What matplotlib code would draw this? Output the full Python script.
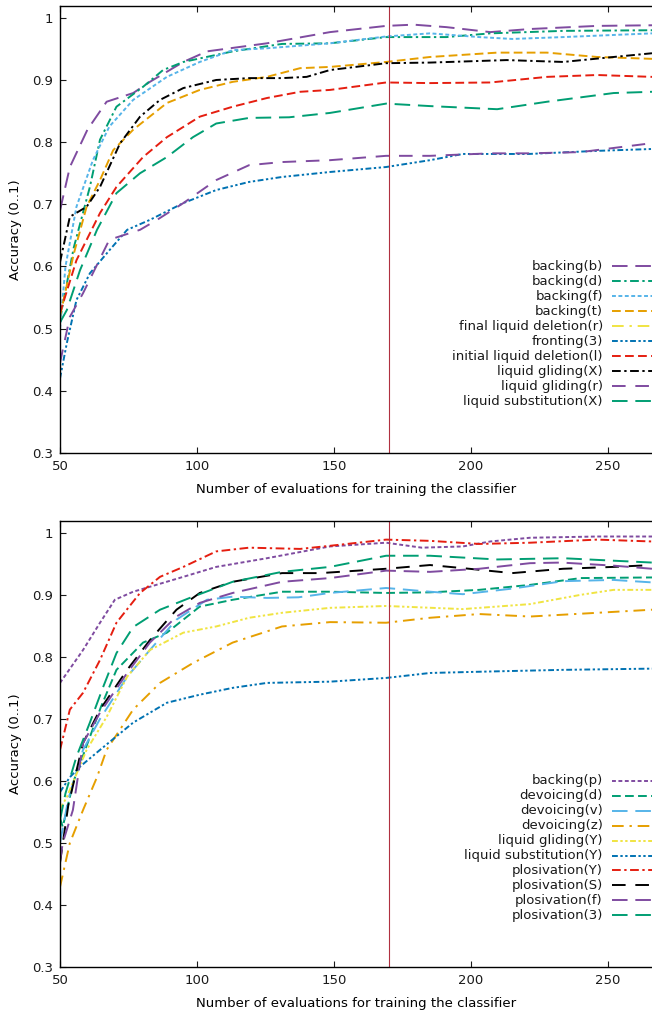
import matplotlib
matplotlib.use("Agg")
import matplotlib.pyplot as plt

plt.rcParams['font.family'] = ['DejaVu Sans']
plt.rcParams['font.size'] = 9.5

# ---- top panel data ----
top_names = ["backing(b)", "backing(d)", "backing(f)", "backing(t)",
             "final liquid deletion(r)", "fronting(3)", "initial liquid deletion(l)",
             "liquid gliding(X)", "liquid gliding(r)", "liquid substitution(X)"]

bb_x = [50, 53.6, 60, 67, 76.7, 82.8, 95, 103.6, 125.5, 148.5, 169, 179, 191, 207, 221.5, 246, 266]
bb_y = [0.690, 0.760, 0.820, 0.865, 0.879, 0.897, 0.929, 0.946, 0.959, 0.977, 0.987, 0.989, 0.985, 0.977, 0.982, 0.987, 0.988]

bd_x = [50, 55, 60.9, 64.6, 70.6, 80.3, 87.6, 95, 113, 131, 148.5, 169, 191, 207, 233.6, 266]
bd_y = [0.515, 0.630, 0.728, 0.804, 0.857, 0.889, 0.916, 0.929, 0.946, 0.958, 0.959, 0.969, 0.969, 0.975, 0.979, 0.980]

bf_x = [50, 52, 56, 62, 68, 76.7, 89, 101, 113, 125.5, 148.5, 169, 185, 203, 215, 233.6, 266]
bf_y = [0.500, 0.600, 0.696, 0.771, 0.825, 0.868, 0.905, 0.929, 0.948, 0.951, 0.959, 0.970, 0.975, 0.969, 0.966, 0.969, 0.975]

bt_x = [50, 55, 59.7, 64.6, 69.4, 76.7, 89, 101, 113, 125.5, 137.6, 148.5, 169, 185, 209.5, 227.7, 246, 266]
bt_y = [0.520, 0.620, 0.696, 0.739, 0.787, 0.820, 0.863, 0.884, 0.897, 0.905, 0.919, 0.921, 0.929, 0.937, 0.944, 0.944, 0.937, 0.934]

fl_x = []
fl_y = []

fr_x = [50, 52.5, 56, 60.9, 68, 74.5, 82.8, 95, 107, 119, 131, 148.5, 169, 185, 197, 221, 246, 266]
fr_y = [0.420, 0.477, 0.546, 0.589, 0.626, 0.659, 0.675, 0.702, 0.723, 0.736, 0.744, 0.752, 0.760, 0.771, 0.781, 0.781, 0.786, 0.789]

il_x = [50, 56, 64.6, 70.6, 80.3, 89, 101, 113, 125.5, 137.6, 148.5, 169, 185, 207, 227.7, 246, 266]
il_y = [0.525, 0.610, 0.686, 0.728, 0.776, 0.808, 0.841, 0.857, 0.871, 0.881, 0.884, 0.896, 0.895, 0.896, 0.905, 0.908, 0.905]

lgx_x = [50, 53.6, 59.7, 64.6, 71.9, 79.2, 86.5, 95, 107, 119, 131, 140, 148.5, 169, 185, 213, 233.6, 252, 266]
lgx_y = [0.607, 0.680, 0.696, 0.728, 0.798, 0.841, 0.868, 0.887, 0.900, 0.903, 0.903, 0.905, 0.916, 0.927, 0.928, 0.932, 0.929, 0.937, 0.943]

lgr_x = [50, 53.6, 58.4, 68, 79.2, 85.4, 95, 107, 119, 131, 148.5, 169, 185, 207, 221, 240, 263.5]
lgr_y = [0.445, 0.519, 0.557, 0.643, 0.659, 0.675, 0.702, 0.739, 0.763, 0.768, 0.771, 0.778, 0.778, 0.782, 0.782, 0.784, 0.797]

lsx_x = [50, 52.5, 57.3, 63.5, 70.6, 79.2, 89, 98.5, 107, 119, 133.6, 148.5, 169, 185, 209.5, 227.7, 252, 266]
lsx_y = [0.510, 0.530, 0.594, 0.659, 0.718, 0.750, 0.776, 0.808, 0.830, 0.839, 0.840, 0.847, 0.862, 0.858, 0.853, 0.865, 0.879, 0.881]

# ---- bottom panel data ----
bot_names = ["backing(p)", "devoicing(d)", "devoicing(v)", "devoicing(z)",
             "liquid gliding(Y)", "liquid substitution(Y)", "plosivation(Y)",
             "plosivation(S)", "plosivation(f)", "plosivation(3)"]

bp_x = [50, 58.4, 64.6, 70, 76.7, 82.8, 95, 107, 125.5, 148.5, 169, 182, 197, 207, 221.5, 246, 266]
bp_y = [0.758, 0.811, 0.855, 0.892, 0.905, 0.913, 0.929, 0.945, 0.959, 0.978, 0.984, 0.976, 0.978, 0.986, 0.992, 0.994, 0.994]

dd_x = [50, 51, 55, 60, 65, 70.6, 80.3, 89, 101, 113, 131, 148.5, 169, 185, 203, 221.5, 240, 266]
dd_y = [0.540, 0.526, 0.600, 0.660, 0.720, 0.779, 0.823, 0.839, 0.881, 0.892, 0.905, 0.905, 0.903, 0.904, 0.908, 0.916, 0.927, 0.928]

dv_x = [50, 53, 58.4, 64.6, 74.5, 82.8, 92.5, 103.6, 113, 125.5, 137, 148.5, 169, 185, 197, 215, 233.6, 252, 266]
dv_y = [0.500, 0.570, 0.650, 0.700, 0.768, 0.811, 0.860, 0.892, 0.897, 0.895, 0.896, 0.903, 0.911, 0.905, 0.901, 0.910, 0.922, 0.924, 0.920]

dz_x = [50, 53.6, 58.4, 63.5, 67, 76.7, 86.5, 98.5, 113, 131, 148.5, 169, 185, 203, 221.5, 246, 266]
dz_y = [0.429, 0.500, 0.553, 0.606, 0.650, 0.715, 0.758, 0.790, 0.823, 0.849, 0.856, 0.855, 0.863, 0.869, 0.865, 0.871, 0.876]

ly_x = [50, 52.5, 59.7, 67, 74.5, 82.8, 95, 107, 119, 131, 148.5, 169, 197, 221.5, 240, 252, 266]
ly_y = [0.555, 0.574, 0.650, 0.703, 0.768, 0.811, 0.839, 0.849, 0.863, 0.871, 0.879, 0.882, 0.877, 0.885, 0.900, 0.908, 0.908]

lsy_x = [50, 53.6, 57.3, 64.6, 76.7, 89, 101, 113, 125.5, 148.5, 169, 185, 203, 233, 266]
lsy_y = [0.582, 0.606, 0.623, 0.650, 0.694, 0.726, 0.739, 0.750, 0.758, 0.760, 0.766, 0.774, 0.776, 0.779, 0.781]

py_x = [50, 53.6, 58.4, 64.6, 70.6, 79.2, 86.5, 95, 107, 119, 137.6, 148.5, 169, 185, 203, 221.5, 246, 266]
py_y = [0.650, 0.715, 0.742, 0.795, 0.855, 0.903, 0.929, 0.945, 0.970, 0.976, 0.974, 0.979, 0.989, 0.987, 0.982, 0.984, 0.989, 0.986]

ps_x = [50, 53, 58.4, 64.6, 74.5, 82.8, 92.5, 101, 113, 131, 145, 169, 185, 197, 215, 233.6, 252, 266]
ps_y = [0.468, 0.560, 0.661, 0.715, 0.779, 0.827, 0.876, 0.903, 0.921, 0.935, 0.935, 0.942, 0.948, 0.943, 0.935, 0.942, 0.945, 0.948]

pf_x = [50, 51, 54.7, 58.4, 64.6, 74.5, 82.8, 92.5, 101, 113, 131, 148.5, 169, 185, 203, 221.5, 233, 252, 266]
pf_y = [0.470, 0.500, 0.553, 0.661, 0.710, 0.774, 0.823, 0.865, 0.887, 0.903, 0.921, 0.927, 0.939, 0.937, 0.942, 0.951, 0.952, 0.947, 0.942]

p3_x = [50, 52, 56, 60.9, 65.8, 70.6, 76.7, 86.5, 98.5, 113, 131, 148.5, 169, 185, 209.5, 233.6, 252, 266]
p3_y = [0.537, 0.580, 0.639, 0.694, 0.752, 0.806, 0.848, 0.876, 0.897, 0.921, 0.937, 0.945, 0.963, 0.963, 0.957, 0.959, 0.955, 0.952]

purple = '#7f4ba0'
green = '#009e73'
cyan = '#56b4e9'
orange = '#e69f00'
yellow = '#f0e442'
blue = '#0072b2'
red = '#e51e10'

long_dash = (0, (8, 4))
dash_dot = (0, (4.5, 1.8, 1.2, 1.8))
dotted = (0, (2, 1.3))
dashed = (0, (4.5, 2.2))
dash_dot_dot = (0, (3, 1.3, 1.2, 1.3, 1.2, 1.3))
long_dash_dot = (0, (6, 3, 1.2, 3))

top_series = [
    (bb_x, bb_y, purple, long_dash),
    (bd_x, bd_y, green, dash_dot),
    (bf_x, bf_y, cyan, dotted),
    (bt_x, bt_y, orange, dashed),
    (fl_x, fl_y, yellow, long_dash_dot),
    (fr_x, fr_y, blue, dash_dot_dot),
    (il_x, il_y, red, dashed),
    (lgx_x, lgx_y, 'black', dash_dot),
    (lgr_x, lgr_y, purple, (0, (7, 5))),
    (lsx_x, lsx_y, green, long_dash),
]

bot_series = [
    (bp_x, bp_y, purple, dotted),
    (dd_x, dd_y, green, dashed),
    (dv_x, dv_y, cyan, long_dash),
    (dz_x, dz_y, orange, long_dash_dot),
    (ly_x, ly_y, yellow, dash_dot_dot),
    (lsy_x, lsy_y, blue, dash_dot_dot),
    (py_x, py_y, red, dash_dot),
    (ps_x, ps_y, 'black', (0, (7, 5))),
    (pf_x, pf_y, purple, long_dash),
    (p3_x, p3_y, green, long_dash),
]

W, H = 652, 1015
fig = plt.figure(figsize=(W / 100, H / 100), dpi=100)

ax_top = fig.add_axes([60 / W, 1 - 453 / H, 1 - 60 / W, (453 - 6) / H])
ax_bot = fig.add_axes([60 / W, 1 - 967 / H, 1 - 60 / W, (967 - 521) / H])

for ax, series, names in [(ax_top, top_series, top_names), (ax_bot, bot_series, bot_names)]:
    for (xs, ys, col, ls) in series:
        ax.plot(xs, ys, color=col, linestyle=ls, linewidth=1.4)
    ax.axvline(170, color='#b03040', linewidth=0.8)

    ax.set_xlim(50, 266)
    ax.set_ylim(0.3, 1.019)
    ax.set_xticks([50, 100, 150, 200, 250])
    ax.set_yticks([0.3, 0.4, 0.5, 0.6, 0.7, 0.8, 0.9, 1.0])
    ax.set_yticklabels(['0.3', '0.4', '0.5', '0.6', '0.7', '0.8', '0.9', '1'])
    ax.tick_params(direction='in', top=True, right=False, length=4, width=0.8,
                   labelsize=9.5, colors='#1a1a1a', pad=5)
    ax.spines['right'].set_visible(False)
    for s in ['left', 'top', 'bottom']:
        ax.spines[s].set_linewidth(1.0)
    ax.set_xlabel("Number of evaluations for training the classifier", fontsize=9.5, labelpad=7)
    ax.set_ylabel("Accuracy (0..1)", fontsize=9.5, labelpad=7)

    # key, drawn by hand so that the labels are right aligned
    for i, (name, (xs, ys, col, ls)) in enumerate(zip(names, series)):
        yf = 0.418 - i * 0.0336
        ax.text(0.917, yf, name, transform=ax.transAxes, ha='right', va='center',
                fontsize=9.5, color='#1a1a1a')
        ax.plot([0.932, 1.0], [yf, yf], transform=ax.transAxes, color=col,
                linestyle=ls, linewidth=1.4, clip_on=False)

fig.savefig("out.png", dpi=100)
